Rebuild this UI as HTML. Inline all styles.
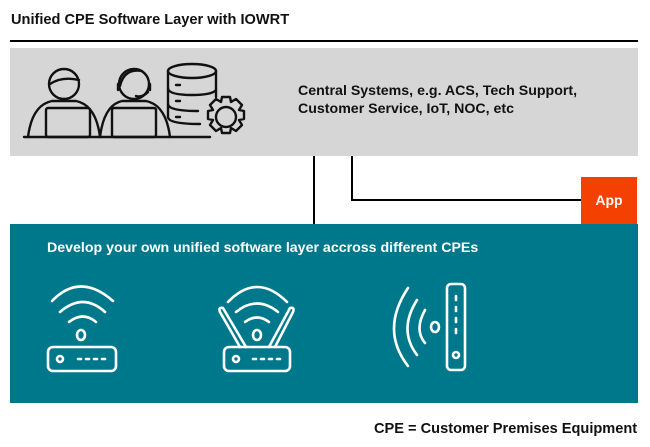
<!DOCTYPE html>
<html><head><style>
body{margin:0;width:650px;height:447px;background:#fff;position:relative;font-family:"Liberation Sans",sans-serif;overflow:hidden}
.t{position:absolute;font-weight:bold;color:#111;white-space:nowrap}
</style></head><body>
<div class="t" style="left:11px;top:12px;font-size:14.6px">Unified CPE Software Layer with IOWRT</div>
<div style="position:absolute;left:10px;top:40px;width:628px;height:2px;background:#000"></div>
<div style="position:absolute;left:10px;top:48px;width:628px;height:108px;background:#d6d6d6"></div>
<div class="t" style="left:298px;top:82px;font-size:14.2px;line-height:18px">Central Systems, e.g. ACS, Tech Support,<br>Customer Service, IoT, NOC, etc</div>
<div style="position:absolute;left:313px;top:156px;width:2px;height:68px;background:#000"></div>
<div style="position:absolute;left:351px;top:156px;width:2px;height:45px;background:#000"></div>
<div style="position:absolute;left:351px;top:199px;width:230px;height:2px;background:#000"></div>
<div style="position:absolute;left:581px;top:177px;width:56px;height:47px;background:#f44000;color:#fff;font-weight:bold;font-size:14px;line-height:47px;text-align:center">App</div>
<div style="position:absolute;left:10px;top:224px;width:628px;height:179px;background:#00788b"></div>
<div class="t" style="left:47px;top:240px;font-size:14.2px;color:#fff">Develop your own unified software layer accross different CPEs</div>
<div class="t" style="left:374px;top:421px;font-size:14.6px">CPE = Customer Premises Equipment</div>
<svg width="650" height="447" style="position:absolute;left:0;top:0" fill="none" stroke-linecap="round" stroke-linejoin="round">
<g stroke="#111" stroke-width="2.4">
<line x1="24" y1="137" x2="210" y2="137"/>
<circle cx="64" cy="84" r="15"/><path d="M50 84 Q62 76 79 80"/>
<path d="M28 137 Q32 105 52 101 L76 101 Q96 105 100 137"/>
<rect x="46" y="108" width="44" height="29" rx="2"/>
<circle cx="134" cy="84" r="15"/><path d="M120 86 Q124 68 142 71"/><path d="M118 84 v6 M150 84 v6 M148 92 q-6 6 -12 4"/>
<path d="M100 137 Q104 105 122 101 L146 101 Q166 105 170 137"/>
<rect x="112" y="108" width="44" height="29" rx="2"/>
<ellipse cx="192" cy="71" rx="24" ry="7"/>
<path d="M168 71 V117 Q168 124 200 124 M216 71 V97"/>
<path d="M168 88 Q168 95 192 95 Q212 95 216 90 M168 104 Q168 111 198 111"/>
<line x1="176" y1="85" x2="180" y2="85"/><line x1="176" y1="101" x2="180" y2="101"/><line x1="176" y1="117" x2="180" y2="117"/>
<circle cx="226" cy="117" r="10"/>
<path d="M222 97 h8 l1 5 l5 -3 l6 6 l-3 5 l5 1 v8 l-5 1 l3 5 l-6 6 l-5 -3 l-1 5 h-8 l-1 -5 l-5 3 l-6 -6 l3 -5 l-5 -1 v-8 l5 -1 l-3 -5 l6 -6 l5 3 z"/>
</g>
<g stroke="#fff" stroke-width="2.6">
<path d="M52 301 Q80 272 113 301"/><path d="M60 312 Q83 292 105 312"/><path d="M69 322 Q83 311 96 322"/>
<ellipse cx="81" cy="335" rx="4" ry="5"/>
<rect x="48" y="347" width="68" height="24" rx="5"/>
<circle cx="60" cy="359" r="3"/>
<path d="M78 359 h3 M86 359 h3 M94 359 h3 M102 359 h3"/>
<path d="M228 302 Q257 272 287 302"/><path d="M236 312 Q257 295 278 312"/><path d="M245 322 Q257 313 269 322"/>
<ellipse cx="257" cy="335" rx="4" ry="5"/>
<path d="M240 347 L220 312 Q218 307 223 308 L246 347 M275 347 L293 312 Q295 307 290 308 L269 347"/>
<rect x="224" y="347" width="66" height="24" rx="5"/>
<circle cx="236" cy="359" r="3"/>
<path d="M253 359 h3 M261 359 h3 M269 359 h3 M277 359 h3"/>
<path d="M408 288 Q380 330 408 366"/><path d="M417 300 Q398 330 417 355"/><path d="M425 310 Q414 330 425 343"/>
<ellipse cx="435" cy="327" rx="4" ry="5"/>
<rect x="447" y="284" width="18" height="86" rx="4"/>
<path d="M456 296 v4 M456 307 v4 M456 318 v4 M456 329 v4"/>
<circle cx="456" cy="355" r="3"/>
</g>
</svg>
</body></html>
